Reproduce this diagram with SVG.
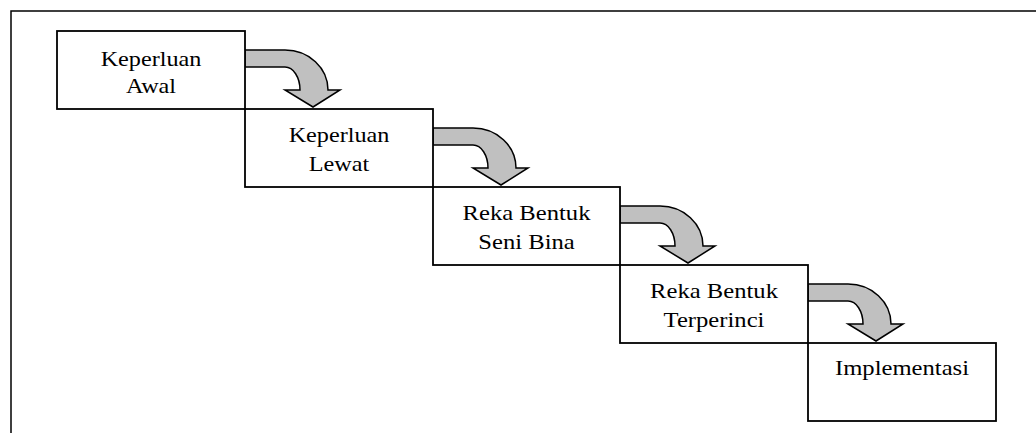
<svg xmlns="http://www.w3.org/2000/svg" width="1036" height="433" viewBox="0 0 1036 433">
  <style>
    .frame { fill: none; stroke: #000; stroke-width: 1.5; }
    .box { fill: #fff; stroke: #000; stroke-width: 1.8; }
    .flow { fill: #c0c0c0; stroke: #000; stroke-width: 1.5; stroke-linejoin: miter; }
    .label { font-family: "Liberation Serif", "Times New Roman", serif; font-size: 22px; fill: #000; text-anchor: middle; }
  </style>
  <defs>
    <!-- curved block arrow, origin at the right edge / top of the source box -->
    <path id="bend" class="flow" d="M0,19 H40 A43,40 0 0 1 83,59 H95 L68,76 L40,59 H55 A15,23 0 0 0 40,36 H0 Z"/>
  </defs>

  <!-- page frame -->
  <path class="frame" d="M1036,11 H11 V433"/>

  <g id="connectors">
    <use href="#bend" transform="translate(245,31)"/>
    <use href="#bend" transform="translate(433,109)"/>
    <use href="#bend" transform="translate(620,187)"/>
    <use href="#bend" transform="translate(808,265)"/>
  </g>

  <g id="keperluan-awal">
    <rect class="box" x="57" y="31" width="188" height="78"/>
    <text class="label" transform="translate(151,65.5) scale(1.1,1)">Keperluan</text>
    <text class="label" transform="translate(151,93) scale(1.1,1)">Awal</text>
  </g>

  <g id="keperluan-lewat">
    <rect class="box" x="245" y="109" width="188" height="78"/>
    <text class="label" transform="translate(339,142) scale(1.1,1)">Keperluan</text>
    <text class="label" transform="translate(339,171) scale(1.1,1)">Lewat</text>
  </g>

  <g id="reka-bentuk-seni-bina">
    <rect class="box" x="433" y="187" width="187" height="78"/>
    <text class="label" transform="translate(526.5,219.5) scale(1.12,1)">Reka Bentuk</text>
    <text class="label" transform="translate(526.5,248.5) scale(1.12,1)">Seni Bina</text>
  </g>

  <g id="reka-bentuk-terperinci">
    <rect class="box" x="620" y="265" width="188" height="78"/>
    <text class="label" transform="translate(714,298) scale(1.12,1)">Reka Bentuk</text>
    <text class="label" transform="translate(714,327) scale(1.12,1)">Terperinci</text>
  </g>

  <g id="implementasi">
    <rect class="box" x="808" y="343" width="188" height="78"/>
    <text class="label" transform="translate(902,375) scale(1.12,1)">Implementasi</text>
  </g>
</svg>
